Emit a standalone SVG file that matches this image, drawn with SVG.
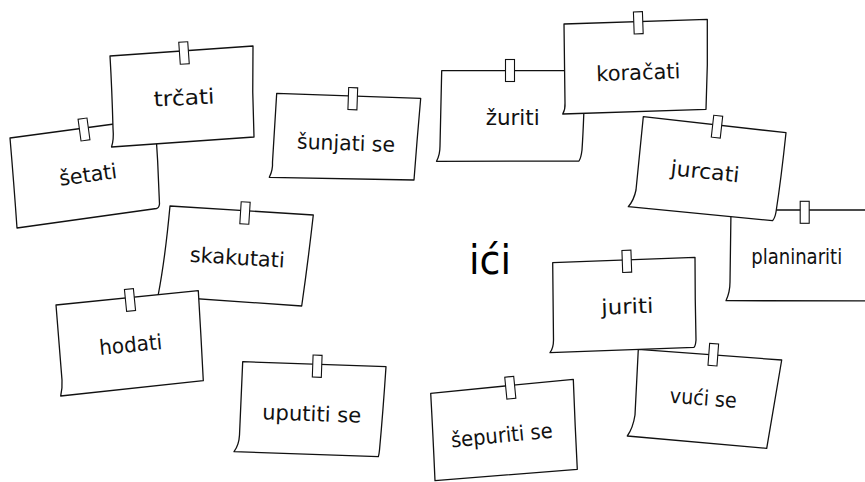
<svg xmlns="http://www.w3.org/2000/svg" width="865" height="482" viewBox="0 0 865 482">
<style>
.n{fill:#fff;stroke:#111;stroke-width:1.3;stroke-linejoin:round}
.p{fill:#fff;stroke:#111;stroke-width:1.1}
.t{font-family:"DejaVu Sans",sans-serif;font-size:21px;fill:#111;text-anchor:middle}
.c{font-family:"DejaVu Sans",sans-serif;font-size:40px;fill:#000;text-anchor:middle}
</style>
<rect width="865" height="482" fill="#fff"/>
<g id="connectors"></g>
<g id="setati">
<path class="n" d="M10,138 L155,118.5 Q158,160 159.5,204 Q159,208 156.5,208.5 L17,228 Q14,185 10,138 Z"/>
<rect class="p" x="-4.5" y="-11" width="9" height="22" transform="translate(84,129.5) rotate(-7.7)"/>
<g transform="translate(88,175) rotate(-7.7)"><text class="t" x="0" y="7" textLength="58" lengthAdjust="spacingAndGlyphs">šetati</text></g>
</g>
<g id="trcati">
<path class="n" d="M110,56 L253,46 Q252,92 254,137 L111.5,147 Q114,140 113,128 Q112,90 110,56 Z"/>
<rect class="p" x="-4.5" y="-11" width="9" height="22" transform="translate(184,53) rotate(-4)"/>
<g transform="translate(184,98) rotate(-3)"><text class="t" x="0" y="7" textLength="61" lengthAdjust="spacingAndGlyphs">trčati</text></g>
</g>
<g id="sunjati-se">
<path class="n" d="M276.7,93.3 L420.7,98.3 Q417,140 414,180 L269.3,177.3 Q273,170 272.5,162 L276.7,93.3 Z"/>
<rect class="p" x="-4.5" y="-11" width="9" height="22" transform="translate(352.8,98.7) rotate(2)"/>
<g transform="translate(346,143.3) rotate(2)"><text class="t" x="0" y="7" textLength="98" lengthAdjust="spacingAndGlyphs">šunjati se</text></g>
</g>
<g id="zuriti">
<path class="n" d="M441.7,70.7 L585,70.7 Q584,120 582,150 Q581,158 579,161 L436.5,161.3 Q440,155 440,146 L441.7,70.7 Z"/>
<rect class="p" x="-4.5" y="-11" width="9" height="22" transform="translate(510,70.5)"/>
<g transform="translate(512.7,118.3)"><text class="t" x="0" y="7" textLength="54" lengthAdjust="spacingAndGlyphs">žuriti</text></g>
</g>
<g id="koracati">
<path class="n" d="M564,24 L707.3,19.3 Q708,65 706,109.3 L562.7,114 Q565.5,109 565,103 L564,24 Z"/>
<rect class="p" x="-4.5" y="-11" width="9" height="22" transform="translate(638.3,22.8) rotate(-2)"/>
<g transform="translate(638.3,72.7) rotate(-2)"><text class="t" x="0" y="7" textLength="84" lengthAdjust="spacingAndGlyphs">koračati</text></g>
</g>
<g id="planinariti">
<path class="n" d="M731,210 L880,210 L880,301 L726,300.7 Q730,292 730,282 L731,210 Z"/>
<rect class="p" x="-4.5" y="-11" width="9" height="22" transform="translate(804.7,212.3)"/>
<g transform="translate(796.7,256.7)"><text class="t" x="0" y="7" textLength="91" lengthAdjust="spacingAndGlyphs">planinariti</text></g>
</g>
<g id="jurcati">
<path class="n" d="M643.3,116.7 L786,132.7 Q781,180 776,212 Q775,218 772.5,220.7 L628.3,206.7 Q634,200 636,190 Q640,150 643.3,116.7 Z"/>
<rect class="p" x="-4.5" y="-11" width="9" height="22" transform="translate(717,126.7) rotate(6.4)"/>
<g transform="translate(705,171.7) rotate(6)"><text class="t" x="0" y="7" textLength="69" lengthAdjust="spacingAndGlyphs">jurcati</text></g>
</g>
<g id="skakutati">
<path class="n" d="M170,206 L313.3,215 Q308,262 301.7,306 L158,296 Q165,260 170,206 Z"/>
<rect class="p" x="-4.5" y="-11" width="9" height="22" transform="translate(245,213) rotate(3.6)"/>
<g transform="translate(237.3,257.7) rotate(3.6)"><text class="t" x="0" y="7" textLength="95" lengthAdjust="spacingAndGlyphs">skakutati</text></g>
</g>
<g id="hodati">
<path class="n" d="M56,305 L198.3,290.7 Q201,335 203.3,380.7 L60.7,396 Q62.5,388 62,380 L56,305 Z"/>
<rect class="p" x="-4.5" y="-11" width="9" height="22" transform="translate(130,300) rotate(-5.7)"/>
<g transform="translate(130.7,345) rotate(-5.7)"><text class="t" x="0" y="7" textLength="63" lengthAdjust="spacingAndGlyphs">hodati</text></g>
</g>
<g id="ici">
<text class="c" x="490" y="274" textLength="42" lengthAdjust="spacingAndGlyphs">ići</text>
</g>
<g id="uputiti-se">
<path class="n" d="M242.7,361.7 L386,366.7 Q383,412 379.5,450 Q379,455 378.3,456.7 L234,451.7 Q239,445 239.5,435 L242.7,361.7 Z"/>
<rect class="p" x="-4.5" y="-11" width="9" height="22" transform="translate(317.2,366.2) rotate(2)"/>
<g transform="translate(311.7,414) rotate(2)"><text class="t" x="0" y="7" textLength="99" lengthAdjust="spacingAndGlyphs">uputiti se</text></g>
</g>
<g id="sepuriti-se">
<path class="n" d="M430.7,393.3 L573.3,379.3 Q575,425 577.3,469.3 L435,480.7 Q433,435 430.7,393.3 Z"/>
<rect class="p" x="-4.5" y="-11" width="9" height="22" transform="translate(510.3,387.7) rotate(-5.6)"/>
<g transform="translate(501.7,435.5) rotate(-5.6)"><text class="t" x="0" y="7" textLength="102" lengthAdjust="spacingAndGlyphs">šepuriti se</text></g>
</g>
<g id="vuci-se">
<path class="n" d="M638.3,349.3 L781.7,360 Q774,405 766.7,448.3 L627.3,436 Q633,428 635,415 L638.3,349.3 Z"/>
<rect class="p" x="-4.5" y="-11" width="9" height="22" transform="translate(713.3,354.7) rotate(4.3)"/>
<g transform="translate(703.3,398.3) rotate(4.3)"><text class="t" x="0" y="7" textLength="67" lengthAdjust="spacingAndGlyphs">vući se</text></g>
</g>
<g id="juriti">
<path class="n" d="M552.7,262.7 L695,257.3 Q695,300 696,340 Q695.5,346 694,347.3 L550,352.7 Q553.5,348 553.5,340 L552.7,262.7 Z"/>
<rect class="p" x="-4.5" y="-11" width="9" height="22" transform="translate(626.8,261.3) rotate(-2)"/>
<g transform="translate(627.3,306.7) rotate(-2)"><text class="t" x="0" y="7" textLength="52" lengthAdjust="spacingAndGlyphs">juriti</text></g>
</g>
</svg>
